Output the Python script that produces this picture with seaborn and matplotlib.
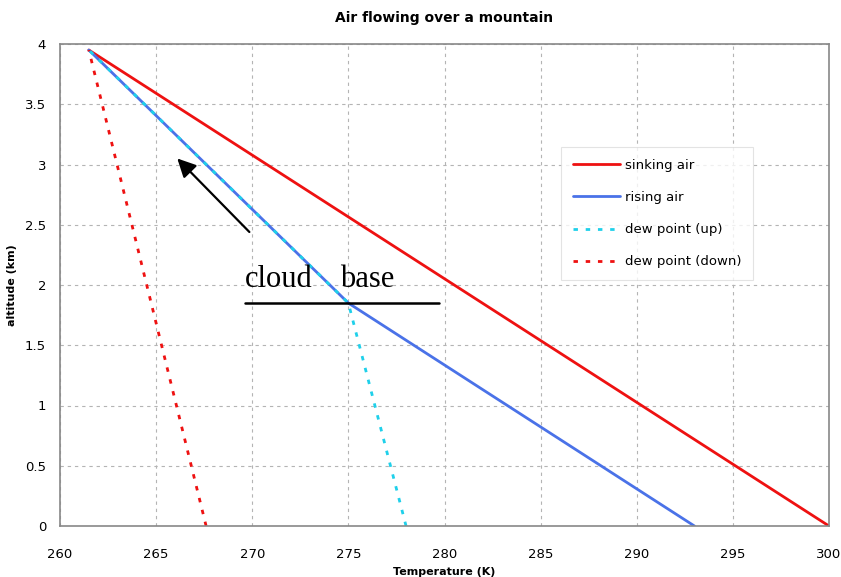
import matplotlib
matplotlib.use("Agg")
import matplotlib.pyplot as plt
import seaborn as sns
import pandas as pd

# Profiles of temperature (K) against altitude (km)
sinking_T = [261.5, 300.0]
sinking_z = [3.95, 0.0]

rising_T = [293.0, 275.0, 261.5]
rising_z = [0.0, 1.85, 3.95]

dew_up_T = [278.0, 275.0, 261.5]
dew_up_z = [0.0, 1.85, 3.95]

dew_down_T = [267.6, 261.5]
dew_down_z = [0.0, 3.95]

cloud_base_z = 1.85
cloud_base_T = [269.6, 279.7]

x_ticks = [260, 265, 270, 275, 280, 285, 290, 295, 300]
y_ticks = [0, 0.5, 1, 1.5, 2, 2.5, 3, 3.5, 4]
y_tick_labels = ["0", "0.5", "1", "1.5", "2", "2.5", "3", "3.5", "4"]

sns.set_theme(style="white")
plt.rcParams["font.family"] = ["DejaVu Sans"]

fig = plt.figure(figsize=(8.41, 5.77), dpi=100)
ax = fig.add_axes([60 / 841, 51 / 577, 769 / 841, 482 / 577])

series = [
    ("sinking air", sinking_T, sinking_z, "#ee1111", None),
    ("rising air", rising_T, rising_z, "#4a72e8", None),
    ("dew point (up)", dew_up_T, dew_up_z, "#1fd0ea", (1.6, 2.8)),
    ("dew point (down)", dew_down_T, dew_down_z, "#ee1111", (1.6, 2.8)),
]

for label, T, z, color, dash in series:
    df = pd.DataFrame({"T": T, "z": z})
    line_ax = sns.lineplot(data=df, x="T", y="z", sort=False, color=color,
                           linewidth=2.0, label=label, ax=ax)
    if dash is not None:
        line_ax.get_lines()[-1].set_dashes(dash)

# cloud base marker
ax.plot(cloud_base_T, [cloud_base_z, cloud_base_z], color="black", linewidth=1.8)
ax.text(cloud_base_T[0], 1.98, "cloud", family="Liberation Serif",
        fontsize=22, ha="left", va="baseline", color="black")
ax.text(274.55, 1.98, "base", family="Liberation Serif",
        fontsize=22, ha="left", va="baseline", color="black")

# rising-air arrow
ax.annotate("", xy=(266.1, 3.05), xytext=(269.85, 2.44),
            arrowprops=dict(arrowstyle="-|>", color="black", lw=1.6,
                            mutation_scale=28, shrinkA=0, shrinkB=0))

ax.set_xlim(260, 300)
ax.set_ylim(0, 4)
ax.set_xticks(x_ticks)
ax.set_xticklabels([str(t) for t in x_ticks], fontsize=9.5)
ax.set_yticks(y_ticks)
ax.set_yticklabels(y_tick_labels, fontsize=9.5)
ax.tick_params(axis="both", direction="out", length=4, width=0.8,
               color="#888888", pad=12, labelcolor="#000000")
ax.tick_params(axis="y", pad=6)

ax.grid(True, color="#b4b4b4", linestyle=(0, (3, 3.5)), linewidth=0.8)
for s in ax.spines.values():
    s.set_color("#888888")
    s.set_linewidth(1.2)

ax.set_xlabel("Temperature (K)", fontsize=8, fontweight="bold", labelpad=4,
              color="#000000")
ax.set_ylabel("altitude (km)", fontsize=8, fontweight="bold", labelpad=6,
              color="#000000")
ax.set_title("Air flowing over a mountain", fontsize=10, fontweight="bold",
             pad=16, color="#000000")

leg = ax.legend(loc="upper left", bbox_to_anchor=(561 / 841, 1 - 147 / 577),
                bbox_transform=fig.transFigure, fontsize=9.5, frameon=True,
                fancybox=False, handlelength=3.6, handletextpad=0.35,
                labelspacing=1.45, borderpad=0.9, borderaxespad=0)
leg.get_frame().set_edgecolor("#dddddd")
leg.get_frame().set_linewidth(0.8)
for t in leg.get_texts():
    t.set_color("#000000")

fig.savefig("out.png", dpi=100)
